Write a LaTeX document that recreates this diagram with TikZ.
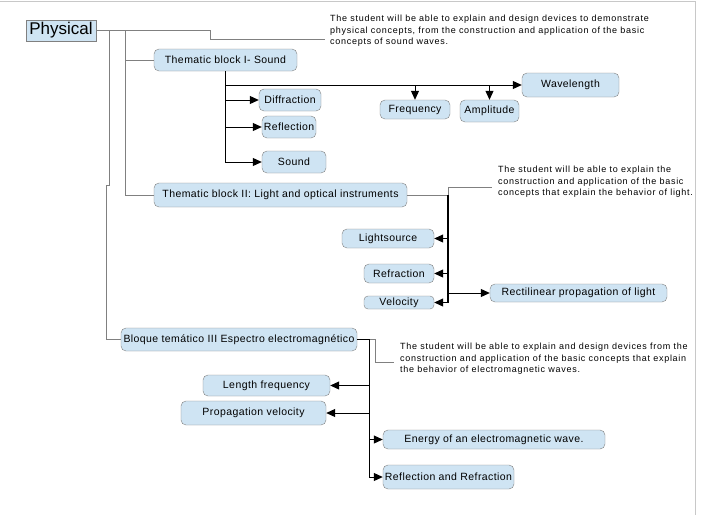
\documentclass[tikz,border=0pt]{standalone}
\usepackage{fontspec}
\setmainfont{Liberation Sans}
\newfontfamily\boxfont[LetterSpace=4]{Liberation Sans}
\newfontfamily\goalfont[LetterSpace=8]{Liberation Sans}
\usetikzlibrary{arrows.meta}

\definecolor{boxfill}{HTML}{CFE4F3}
\definecolor{boxline}{HTML}{808080}
\definecolor{frameline}{HTML}{C8C8C8}

\tikzset{
  box/.style={draw=boxline, fill=boxfill, rounded corners=5pt, inner sep=0pt,
    font=\boxfont\fontsize{10.5}{12}\selectfont},
  goal/.style={anchor=north west, align=left, inner sep=0pt,
    font=\goalfont\fontsize{9}{11.5}\selectfont},
  link/.style={draw=boxline, line width=1pt},
  branch/.style={draw=black, line width=1pt},
  arr/.style={branch, -{Triangle[length=9pt,width=8pt]}},
}

\begin{document}
\begin{tikzpicture}[x=1pt,y=-1pt]
\useasboundingbox (0,0) rectangle (705,515);
\draw[frameline, line width=1pt] (0,1) -- (695,1) -- (695,515);

% Physical
\node[box, rounded corners=0pt, minimum width=70, minimum height=21,
  font=\fontsize{17}{20}\selectfont] (phys) at (61,30.5) {Physical};
\node[goal] (goal1) at (330,15) {The student will be able to explain and design devices to demonstrate\\
physical concepts, from the construction and application of the basic\\
concepts of sound waves.};
\coordinate (g1) at (325,39.5);

% bloque I
\node[box, minimum width=143, minimum height=22] (tb1) at (225.5,60) {Thematic block I- Sound};
\node[box, minimum width=62, minimum height=22] (diff) at (290,100) {Diffraction};
\node[box, minimum width=54, minimum height=22] (refl) at (289,127) {Reflection};
\node[box, minimum width=64, minimum height=22] (snd) at (294,162) {Sound};
\node[box, minimum width=97, minimum height=24] (wave) at (570.5,85) {Wavelength};
\node[box, minimum width=70, minimum height=19] (freq) at (415,109.5) {Frequency};
\node[box, minimum width=59, minimum height=22] (ampl) at (489.5,111) {Amplitude};

% bloque II
\node[box, minimum width=253, minimum height=24] (tb2) at (280.5,195) {Thematic block II: Light and optical instruments};
\node[goal] (goal2) at (498,166) {The student will be able to explain the\\
construction and application of the basic\\
concepts that explain the behavior of light.};
\coordinate (g2) at (492,187);
\node[box, minimum width=92, minimum height=19] (lsrc) at (388,238.5) {Lightsource};
\node[box, minimum width=70, minimum height=19] (refr) at (399,273.5) {Refraction};
\node[box, minimum width=70, minimum height=13, rounded corners=4pt] (velo) at (399,302.5) {Velocity};
\node[box, minimum width=177, minimum height=18] (rect) at (578.5,293) {Rectilinear propagation of light};
\coordinate (b2) at (448,195);

% bloque III
\node[box, minimum width=236, minimum height=23] (tb3) at (239,339.5) {Bloque temático III Espectro electromagnético};
\node[goal] (goal3) at (400,343) {The student will be able to explain and design devices from the\\
construction and application of the basic concepts that explain\\
the behavior of electromagnetic waves.};
\coordinate (g3) at (394,362);
\node[box, minimum width=127, minimum height=21] (lfreq) at (266.5,385.5) {Length frequency};
\node[box, minimum width=145, minimum height=24] (pvel) at (253.5,413) {Propagation velocity};
\node[box, minimum width=222, minimum height=19] (ener) at (494,439.5) {Energy of an electromagnetic wave.};
\node[box, minimum width=131, minimum height=24] (rr) at (448.5,477) {Reflection and Refraction};
\coordinate (b3) at (369,339.5);

% conectores grises
\draw[link] (phys.east) -- (210,30.5) -- (210,39.5) -- (g1);
\draw[link] (phys.east) -- (125,30.5) -- (125,195) -- (tb2.west);
\draw[link] (125,60) -- (tb1.west);
\draw[link] (109.5,30.5) -- (109.5,185) -- (106.5,185) -- (106.5,339.5) -- (tb3.west);
\draw[link] (tb2.east) -- (b2) -- (b2 |- g2) -- (g2);
\draw[link] (b3) -- (375,339.5) -- (375,362) -- (g3);

% flechas I
\draw[arr] (tb1.south) |- (snd.west);
\foreach \n in {diff,refl,wave} {
\draw[arr] (tb1.south |- \n.west) -- (\n.west);
}
\foreach \n in {freq,ampl} {
\draw[arr] (\n.north |- wave.west) -- (\n.north);
}

% flechas II
\draw[branch, line width=2pt] (b2) -- (b2 |- velo.east);
\foreach \n in {lsrc,refr,velo} {
\draw[arr] (b2 |- \n.east) -- (\n.east);
}
\draw[arr] (b2 |- rect.west) -- (rect.west);

% flechas III
\draw[branch] (tb3.east) -- (b3) -- (b3 |- rr.west);
\foreach \n in {lfreq,pvel} {
\draw[arr] (b3 |- \n.east) -- (\n.east);
}
\foreach \n in {ener,rr} {
\draw[arr] (b3 |- \n.west) -- (\n.west);
}

\end{tikzpicture}
\end{document}
